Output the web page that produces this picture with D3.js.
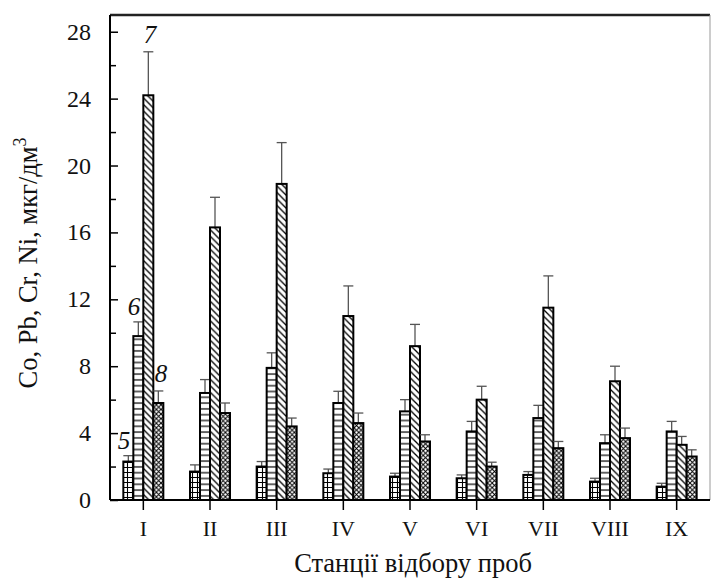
<!DOCTYPE html>
<html><head><meta charset="utf-8">
<script src="https://cdn.jsdelivr.net/npm/d3@7"></script>
<style>body{margin:0;background:#fff}svg{display:block}
text{font-family:'Liberation Serif','DejaVu Serif','Times New Roman',serif;}</style>
</head><body>
<script>
const stations = ["I","II","III","IV","V","VI","VII","VIII","IX"];
const seriesNames = ["5","6","7","8"];
const co   = [2.3, 1.7, 2.0, 1.6, 1.4, 1.3, 1.5, 1.1, 0.8];
const pb   = [9.8, 6.4, 7.9, 5.8, 5.3, 4.1, 4.9, 3.4, 4.1];
const cr   = [24.2, 16.3, 18.9, 11.0, 9.2, 6.0, 11.5, 7.1, 3.3];
const ni   = [5.8, 5.2, 4.4, 4.6, 3.5, 2.0, 3.1, 3.7, 2.6];
const coErr = [0.35, 0.4, 0.3, 0.25, 0.2, 0.2, 0.2, 0.2, 0.2];
const pbErr = [0.85, 0.8, 0.9, 0.7, 0.7, 0.6, 0.76, 0.5, 0.6];
const crErr = [2.6, 1.8, 2.47, 1.8, 1.3, 0.8, 1.9, 0.9, 0.5];
const niErr = [0.72, 0.6, 0.5, 0.6, 0.4, 0.26, 0.4, 0.6, 0.4];
const yTicks = [0, 4, 8, 12, 16, 20, 24, 28];
const yMinorTicks = [2, 6, 10, 14, 18, 22, 26];
const yTitle = "Co, Pb, Cr, Ni, мкг/дм";
const xTitle = "Станції відбору проб";

const values = [co, pb, cr, ni];
const errs = [coErr, pbErr, crErr, niErr];

const W = 711, H = 583;
const m = {left:110, right:1, top:15, bottom:83};
const svg = d3.select("body").append("svg").attr("width", W).attr("height", H);
const defs = svg.append("defs");

// patterns
const p0 = defs.append("pattern").attr("id","pat0").attr("patternUnits","userSpaceOnUse").attr("width",5).attr("height",5);
p0.append("rect").attr("width",5).attr("height",5).attr("fill","#fff");
p0.append("path").attr("d","M0,2.5H5M2.5,0V5").attr("stroke","#000").attr("stroke-width",1.1);
const p1 = defs.append("pattern").attr("id","pat1").attr("patternUnits","userSpaceOnUse").attr("width",10).attr("height",5.8);
p1.append("rect").attr("width",10).attr("height",5.8).attr("fill","#fff");
p1.append("path").attr("d","M0,2.9H10").attr("stroke","#000").attr("stroke-width",1.2);
const p2 = defs.append("pattern").attr("id","pat2").attr("patternUnits","userSpaceOnUse").attr("width",6.5).attr("height",6.5);
p2.append("rect").attr("width",6.5).attr("height",6.5).attr("fill","#fff");
p2.append("path").attr("d","M-1,-1L7.5,7.5M-4,2.5L2,8.5M4.5,-2L8.5,2").attr("stroke","#000").attr("stroke-width",1.3);
const p3 = defs.append("pattern").attr("id","pat3").attr("patternUnits","userSpaceOnUse").attr("width",4.6).attr("height",4.6);
p3.append("rect").attr("width",4.6).attr("height",4.6).attr("fill","#fff");
p3.append("path").attr("d","M0,0L4.6,4.6M4.6,0L0,4.6").attr("stroke","#000").attr("stroke-width",1);

const x = d3.scaleBand().domain(stations).range([m.left, W - m.right]);
const xs = d3.scaleBand().domain(seriesNames).range([0, 40]);
const y = d3.scaleLinear().domain([0, 29]).range([H - m.bottom, m.top]);
const y0 = y(0);

const g = svg.append("g");
stations.forEach((st, i) => {
  const cx = x(st) + x.bandwidth()/2 - 20;
  seriesNames.forEach((s, k) => {
    const bx = cx + xs(s);
    const v = values[k][i], e = errs[k][i];
    const ex = bx + xs.bandwidth()/2;
    g.append("line").attr("x1", ex).attr("x2", ex).attr("y1", y(v)).attr("y2", y(v+e))
      .attr("stroke","#555").attr("stroke-width",1.3);
    g.append("line").attr("x1", ex-5).attr("x2", ex+5).attr("y1", y(v+e)).attr("y2", y(v+e))
      .attr("stroke","#555").attr("stroke-width",1.3);
    g.append("rect").attr("x", bx).attr("y", y(v)).attr("width", xs.bandwidth()).attr("height", y0 - y(v))
      .attr("fill", `url(#pat${k})`).attr("stroke","#000").attr("stroke-width",2);
  });
});

// frame
svg.append("line").attr("x1", m.left).attr("x2", W - m.right).attr("y1", m.top).attr("y2", m.top)
  .attr("stroke","#222").attr("stroke-width",2.5);
svg.append("line").attr("x1", W - m.right).attr("x2", W - m.right).attr("y1", m.top).attr("y2", y0)
  .attr("stroke","#999").attr("stroke-width",1);

// y axis
const yAxis = svg.append("g").attr("transform",`translate(${m.left},0)`)
  .call(d3.axisRight(y).tickValues(yTicks).tickSize(8).tickFormat(""));
yAxis.select(".domain").attr("stroke","#000").attr("stroke-width",2).attr("d", `M0,${m.top}V${y0}`);
yAxis.selectAll(".tick line").attr("stroke","#000").attr("stroke-width",1.5);
const yMinor = svg.append("g").attr("transform",`translate(${m.left},0)`)
  .call(d3.axisRight(y).tickValues(yMinorTicks).tickSize(6).tickFormat(""));
yMinor.select(".domain").remove();
yMinor.selectAll(".tick line").attr("stroke","#000").attr("stroke-width",1.5);
svg.append("g").selectAll("text").data(yTicks).join("text")
  .attr("x", 91).attr("y", d => y(d) + 8).attr("text-anchor","end")
  .attr("font-size",24).attr("fill","#111").text(d => d);

// x axis
const xAxis = svg.append("g").attr("transform",`translate(0,${y0})`)
  .call(d3.axisBottom(x).tickSize(10).tickFormat(""));
xAxis.select(".domain").attr("stroke","#000").attr("stroke-width",2).attr("d", `M${m.left},0H${W - m.right}`);
xAxis.selectAll(".tick line").attr("stroke","#000").attr("stroke-width",1.5);
svg.append("g").selectAll("text").data(stations).join("text")
  .attr("x", d => x(d) + x.bandwidth()/2).attr("y", 536).attr("text-anchor","middle")
  .attr("font-size",22).attr("fill","#111").text(d => d);

svg.append("text").attr("x", 413).attr("y", 572).attr("text-anchor","middle")
  .attr("font-size",26.5).attr("fill","#111").text(xTitle);

const yt = svg.append("text").attr("transform",`translate(37,263) rotate(-90)`).attr("text-anchor","middle")
  .attr("font-size",26.5).attr("fill","#111");
yt.append("tspan").text(yTitle);
yt.append("tspan").attr("dy",-11).attr("font-size",18).text("3");

// series labels
const lab = [["5",124,449],["7",150,43],["6",134,315],["8",161,382]];
svg.append("g").selectAll("text").data(lab).join("text")
  .attr("x", d => d[1]).attr("y", d => d[2]).attr("text-anchor","middle")
  .attr("font-style","italic").attr("font-size",25).attr("fill","#111")
  .text(d => d[0]);
</script>
</body></html>
